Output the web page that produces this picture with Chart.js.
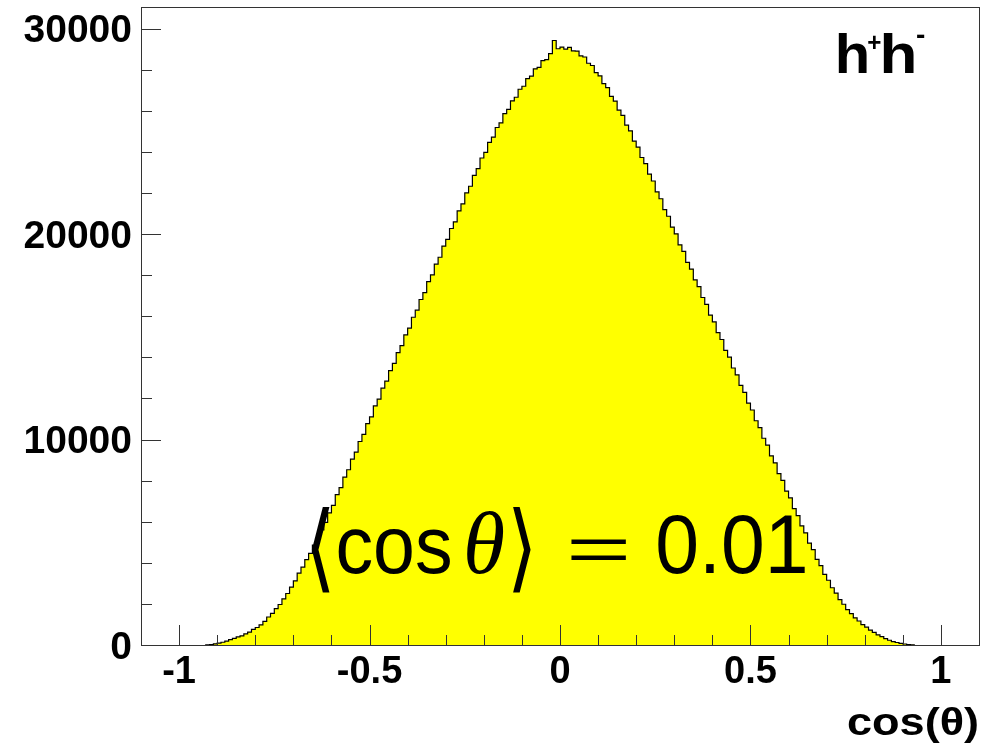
<!DOCTYPE html>
<html>
<head>
<meta charset="utf-8">
<title>cos(θ) h+h-</title>
<script src="https://cdn.jsdelivr.net/npm/chart.js@4.4.1/dist/chart.umd.min.js"></script>
<style>
  html, body { margin: 0; padding: 0; background: #fff; }
  canvas { display: block; }
</style>
</head>
<body>
<canvas id="cosChart" width="992" height="745"></canvas>
<script>
// cos(theta) distribution for h+h- pairs, 0.01 wide bins starting at -0.93
var binStart = -0.93;
var binWidth = 0.01;
var counts = [
  6, 22, 58, 87, 135, 190, 262, 318, 392, 446,
  538, 629, 758, 851, 982, 1148, 1362, 1541, 1768, 1972,
  2246, 2507, 2818, 3122, 3495, 3788, 4152, 4463, 4861, 5218,
  5597, 5964, 6431, 6792, 7318, 7655, 8172, 8528, 9046, 9391,
  9904, 10248, 10771, 11102, 11634, 11968, 12497, 12843, 13356, 13702,
  14231, 14566, 15092, 15418, 15951, 16297, 16814, 17153, 17688, 18012,
  18536, 18872, 19415, 19738, 20271, 20596, 21132, 21465, 22003, 22326,
  22858, 23187, 23702, 23978, 24463, 24721, 25186, 25412, 25861, 26064,
  26485, 26657, 27048, 27193, 27562, 27684, 28039, 28115, 28436, 28487,
  28782, 29420, 29018, 29102, 28996, 29087, 28912, 28903, 28668, 28617,
  28312, 28204, 27856, 27702, 27318, 27124, 26698, 26471, 26027, 25773,
  25298, 25022, 24527, 24231, 23726, 23432, 22912, 22583, 22051, 21718,
  21193, 20867, 20341, 20012, 19478, 19153, 18621, 18296, 17768, 17437,
  16912, 16578, 16052, 15721, 15203, 14867, 14341, 14008, 13482, 13151,
  12633, 12297, 11772, 11438, 10913, 10582, 10062, 9727, 9203, 8867,
  8344, 8011, 7493, 7158, 6634, 6301, 5796, 5458, 4962, 4637,
  4172, 3861, 3438, 3152, 2786, 2527, 2213, 1984, 1718, 1531,
  1322, 1168, 994, 866, 724, 617, 496, 404, 307, 232,
  168, 121, 78, 49, 24, 7
];
var xTickLabels = [-1, -0.5, 0, 0.5, 1];
var yTickLabels = [0, 10000, 20000, 30000];
var xTitle = 'cos(θ)';
var meanCosTheta = 0.01;

var FONT = '"Liberation Sans", Arial, Helvetica, sans-serif';

// step outline: each point holds its value until the next bin edge
var points = [{ x: binStart, y: 0 }];
counts.forEach(function (c, i) {
  points.push({ x: binStart + i * binWidth, y: c });
});
points.push({ x: binStart + counts.length * binWidth, y: 0 });

// fit a piece of text into an ink box [left, right, top, bottom]
function fitText(ctx, text, font, box) {
  ctx.font = font;
  ctx.textAlign = 'left';
  ctx.textBaseline = 'alphabetic';
  var m = ctx.measureText(text);
  var w = m.actualBoundingBoxLeft + m.actualBoundingBoxRight;
  var h = m.actualBoundingBoxAscent + m.actualBoundingBoxDescent;
  var sx = (box[1] - box[0]) / w;
  var sy = (box[3] - box[2]) / h;
  ctx.save();
  ctx.translate(box[0] + m.actualBoundingBoxLeft * sx, box[2] + m.actualBoundingBoxAscent * sy);
  ctx.scale(sx, sy);
  ctx.fillText(text, 0, 0);
  ctx.restore();
}

// frame plus inward tick marks, ROOT style
var frameTicks = {
  id: 'frameTicks',
  afterDatasetsDraw: function (chart) {
    var ctx = chart.ctx, a = chart.chartArea;
    var xs = chart.scales.x, ys = chart.scales.y;
    ctx.save();
    ctx.strokeStyle = '#333';
    ctx.lineWidth = 1;
    ctx.beginPath();
    for (var k = -10; k <= 10; k++) {
      var px = Math.round(xs.getPixelForValue(k / 10)) + 0.5;
      var lx = (k % 5 === 0) ? 20 : 10;
      ctx.moveTo(px, a.bottom);
      ctx.lineTo(px, a.bottom - lx);
    }
    for (var v = 0; v <= 30000; v += 2000) {
      var py = Math.round(ys.getPixelForValue(v)) + 0.5;
      var ly = (v % 10000 === 0) ? 20 : 11;
      ctx.moveTo(a.left, py);
      ctx.lineTo(a.left + ly, py);
    }
    ctx.stroke();
    ctx.strokeRect(Math.round(a.left) + 0.5, Math.round(a.top) + 0.5,
                   Math.round(a.right - a.left), Math.round(a.bottom - a.top));
    ctx.restore();
  }
};

// axis title, channel label and the mean value written over the histogram
var annotations = {
  id: 'annotations',
  afterDraw: function (chart) {
    var ctx = chart.ctx;
    ctx.save();
    ctx.fillStyle = '#000';
    fitText(ctx, xTitle, 'bold 42px ' + FONT, [848, 977, 706, 743]);

    fitText(ctx, 'h', 'bold 52px ' + FONT, [838, 867, 33, 73]);
    fitText(ctx, '+', 'bold 28px ' + FONT, [868, 881, 35, 49]);
    fitText(ctx, 'h', 'bold 52px ' + FONT, [883, 914, 33, 73]);
    fitText(ctx, '-', 'bold 28px ' + FONT, [917, 925, 34, 38]);

    fitText(ctx, '⟨', '88px "DejaVu Sans"', [311, 330, 507, 593]);
    fitText(ctx, 'cos', '88px ' + FONT, [338, 450, 530, 574]);
    fitText(ctx, 'θ', 'italic 88px "Liberation Serif", serif', [467, 504, 510, 574]);
    fitText(ctx, '⟩', '88px "DejaVu Sans"', [513, 531, 507, 593]);
    fitText(ctx, '=', '88px ' + FONT, [571, 627, 540, 560]);
    fitText(ctx, meanCosTheta.toFixed(2), '88px ' + FONT, [658, 805, 515, 574]);
    ctx.restore();
  }
};

new Chart(document.getElementById('cosChart').getContext('2d'), {
  type: 'line',
  data: {
    datasets: [{
      data: points,
      stepped: true,
      fill: 'origin',
      backgroundColor: '#ffff00',
      borderColor: '#000',
      borderWidth: 1.2,
      pointRadius: 0,
      tension: 0
    }]
  },
  options: {
    responsive: false,
    animation: false,
    events: [],
    layout: { padding: { top: 7, right: 13, left: 0, bottom: 0 } },
    plugins: { legend: { display: false }, tooltip: { enabled: false } },
    scales: {
      x: {
        type: 'linear',
        min: -1.1,
        max: 1.1,
        afterBuildTicks: function (scale) {
          scale.ticks = xTickLabels.map(function (v) { return { value: v }; });
        },
        afterFit: function (scale) {
          scale.height = 100;
          scale.paddingLeft = 0;
          scale.paddingRight = 0;
        },
        grid: { display: false, drawTicks: false },
        border: { display: false },
        ticks: {
          autoSkip: false,
          maxRotation: 0,
          padding: 5,
          color: '#000',
          font: { family: FONT, size: 38, weight: 'bold' },
          callback: function (v) { return String(v); }
        }
      },
      y: {
        min: 0,
        max: 31050,
        afterBuildTicks: function (scale) {
          scale.ticks = yTickLabels.map(function (v) { return { value: v }; });
        },
        afterFit: function (scale) {
          scale.width = 141;
          scale.paddingTop = 0;
          scale.paddingBottom = 0;
        },
        grid: { display: false, drawTicks: false },
        border: { display: false },
        ticks: {
          padding: 9,
          labelOffset: 3,
          color: '#000',
          font: { family: FONT, size: 39, weight: 'bold' },
          callback: function (v) { return String(v); }
        }
      }
    }
  },
  plugins: [frameTicks, annotations]
});
</script>
</body>
</html>
